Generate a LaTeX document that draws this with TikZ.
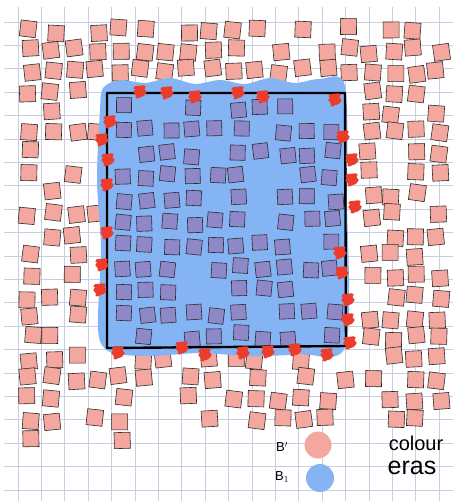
\documentclass[tikz,border=0pt]{standalone}
\usepackage{fontspec}
\setsansfont{Liberation Sans}
\usepackage{tikz}
\usetikzlibrary{positioning}
\definecolor{gridc}{HTML}{C9CDE2}
\definecolor{pinkc}{HTML}{F4A79E}
\definecolor{purpc}{HTML}{8E88C9}
\definecolor{bluec}{HTML}{84B4F4}
\definecolor{redc}{HTML}{EC3C2C}
\definecolor{inkc}{HTML}{2B2B2B}

\begin{document}
\begin{tikzpicture}[x=1pt, y=-1pt,
  gridln/.style={draw=gridc, line width=0.7pt},
  pinksq/.style={fill=pinkc, draw=inkc, line width=0.6pt},
  purpsq/.style={fill=purpc, draw=inkc, line width=0.6pt},
  scrib/.style={draw=redc, line width=3.5pt, line cap=round, line join=round},
  blob/.style={circle, inner sep=0pt},
  lab/.style={font=\sffamily, text=black, inner sep=0pt}
]
\useasboundingbox[fill=white] (0,0) rectangle (453,501);
\foreach \k in {0,...,20} \draw[gridln] (4,22+23.4*\k) -- (453,22+23.4*\k);
\foreach \k in {0,...,18} \draw[gridln] (18+23.4*\k,7) -- (18+23.4*\k,501);

\pgfmathsetseed{42}
\foreach \i in {0,...,18}
  \foreach \j in {0,...,20} {
    \pgfmathsetmacro\px{30+22.7*\i+7*rnd-3.5}
    \pgfmathsetmacro\py{30+20.5*\j+7*rnd-3.5}
    \pgfmathsetmacro\ang{16*rnd-8}
    \pgfmathsetmacro\ybot{\px<130 ? 442 : 421}
    \pgfmathtruncatemacro\ok{(rnd>0.22) && !(\px>97 && \px<356 && \py>82 && \py<358) && (\py<\ybot)}
    \ifnum\ok=1
      \draw[pinksq, shift={(\px,\py)}, rotate=\ang] (-8,-8) rectangle (8,8);
    \fi
  }

\fill[bluec] plot[smooth cycle] coordinates {(103,88) (120,80) (145,83) (170,78) (195,84) (220,80) (245,84) (270,78) (295,83) (320,79) (345,86) (347,200) (346,345) (300,354) (250,356) (200,353) (150,356) (110,352) (98,330) (101,250) (97,180) (100,110)};

\foreach \i in {0,...,9}
  \foreach \j in {0,...,10} {
    \pgfmathsetmacro\px{122+23.4*\i+7*rnd-3.5}
    \pgfmathsetmacro\py{108+22.8*\j+7*rnd-3.5}
    \pgfmathsetmacro\ang{14*rnd-7}
    \pgfmathtruncatemacro\ok{rnd>0.25}
    \ifnum\ok=1
      \draw[purpsq, shift={(\px,\py)}, rotate=\ang] (-7.5,-7.5) rectangle (7.5,7.5);
    \fi
  }

\draw[line width=2.4pt, line join=round] (107,93) -- (345,93) -- (346,346) -- (107,348) -- cycle;

\foreach \x/\y in {140/92, 167/93, 195/97, 238/93, 263/97, 335/100,
                   110/122, 102/140, 108/160, 107/185, 107/233, 102/265, 100/290, 118/353,
                   343/137, 352/160, 352/180, 355/207, 340/253, 342/273, 348/300, 348/320, 350/343,
                   182/348, 205/355, 243/353, 268/352, 295/350, 327/355} {
  \fill[redc] (\x,\y) ellipse (6 and 5);
  \draw[scrib] (\x,\y) ++(-5,-4) -- ++(9,-1) -- ++(-9,5) -- ++(10,0) -- ++(-8,5);
}

\node[blob, fill=pinkc, minimum size=27pt] (pinkblob) at (318,445) {};
\node[blob, fill=bluec, minimum size=28pt] (blueblob) at (320,478) {};
\node[lab, font=\sffamily\fontsize{13}{13}\selectfont] (bprime) at (282,447) {B$'$};
\node[lab, font=\sffamily\fontsize{13}{13}\selectfont] (bone) at (282,477) {B$_1$};
\node[lab, font=\sffamily\fontsize{20}{20}\selectfont] (colour) at (416,443) {colour};
\node[lab, font=\sffamily\fontsize{25}{25}\selectfont] (eras) at (412,468) {eras};
\end{tikzpicture}
\end{document}
